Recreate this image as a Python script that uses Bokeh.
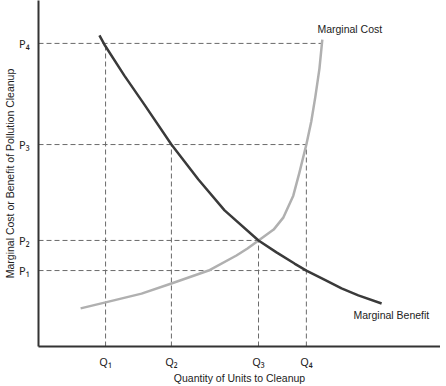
from bokeh.plotting import figure
from bokeh.models import Range1d, FixedTicker
from bokeh.core.properties import value
from bokeh.embed import file_html
from bokeh.resources import INLINE

# Quantities and prices
q_labels = ["Q\u2081", "Q\u2082", "Q\u2083", "Q\u2084"]
q_vals = [1.64, 3.25, 5.38, 6.55]
p_labels = ["P\u2081", "P\u2082", "P\u2083", "P\u2084"]
p_vals = [2.17, 3.03, 5.77, 8.66]

# Marginal benefit curve (read points)
mb_x = [1.49, 1.61, 2.10, 2.59, 3.25, 3.91, 4.55, 5.38, 5.82, 6.26, 6.55, 6.99, 7.41, 7.82, 8.39]
mb_y = [8.89, 8.63, 7.74, 6.91, 5.77, 4.77, 3.89, 3.03, 2.69, 2.37, 2.17, 1.91, 1.66, 1.46, 1.23]

# Marginal cost curve (read points)
mc_x = [1.03, 1.64, 2.52, 3.25, 4.16, 4.84, 5.11, 5.38, 5.75, 5.99, 6.23, 6.38, 6.55, 6.67, 6.77, 6.87, 6.94]
mc_y = [1.09, 1.26, 1.51, 1.80, 2.17, 2.60, 2.80, 3.03, 3.34, 3.69, 4.31, 4.97, 5.77, 6.43, 7.14, 7.94, 8.77]

FONT = "Liberation Sans"
FS = "10.5px"

p = figure(frame_width=402, frame_height=346, output_backend="svg", toolbar_location=None,
           x_range=Range1d(0, 9.83), y_range=Range1d(0, 9.886),
           min_border_top=0, min_border_right=0, min_border_left=0, min_border_bottom=0)
p.outline_line_color = None
p.xgrid.visible = False
p.ygrid.visible = False

for ax in (p.xaxis[0], p.yaxis[0]):
    ax.axis_line_color = "#333333"
    ax.axis_line_width = 2
    ax.major_tick_line_color = None
    ax.minor_tick_line_color = None
    ax.major_label_text_font = "Noto Sans"
    ax.major_label_text_font_size = "11px"
    ax.major_label_text_color = "#222222"
    ax.axis_label_text_font = FONT
    ax.axis_label_text_font_size = FS
    ax.axis_label_text_font_style = "normal"
    ax.axis_label_text_color = "#222222"
    ax.major_label_standoff = 1
    ax.axis_label_standoff = 0
p.yaxis.major_label_standoff = 3

p.xaxis.ticker = FixedTicker(ticks=q_vals)
p.xaxis.major_label_overrides = {v: l for v, l in zip(q_vals, q_labels)}
p.yaxis.ticker = FixedTicker(ticks=p_vals)
p.yaxis.major_label_overrides = {v: l for v, l in zip(p_vals, p_labels)}
p.xaxis.axis_label = "Quantity of Units to Cleanup"
p.yaxis.axis_label = "Marginal Cost or Benefit of Pollution Cleanup"

dash_kw = dict(line_color="#6a6a6a", line_width=1, line_dash="5 3")
# horizontal reference lines
p.segment(x0=[0, 0, 0, 0], y0=[p_vals[3], p_vals[2], p_vals[1], p_vals[0]],
          x1=[6.92, q_vals[3], q_vals[2], q_vals[3]],
          y1=[p_vals[3], p_vals[2], p_vals[1], p_vals[0]], **dash_kw)
# vertical reference lines
p.segment(x0=q_vals, y0=[0, 0, 0, 0],
          x1=q_vals, y1=[p_vals[3], p_vals[2], p_vals[1], p_vals[2]], **dash_kw)

p.line(mc_x, mc_y, line_color="#b0b0b0", line_width=2.5, line_join="round")
p.line(mb_x, mb_y, line_color="#3a3a3a", line_width=2.5, line_join="round")

p.text(x=[6.82], y=[9.06], text=["Marginal Cost"], text_font=value(FONT),
       text_font_size=FS, text_color="#222222", text_baseline="middle", text_align="left")
p.text(x=[7.70], y=[0.91], text=["Marginal Benefit"], text_font=value(FONT),
       text_font_size=FS, text_color="#222222", text_baseline="middle", text_align="left")

open("out.html", "w").write(file_html(p, INLINE))
